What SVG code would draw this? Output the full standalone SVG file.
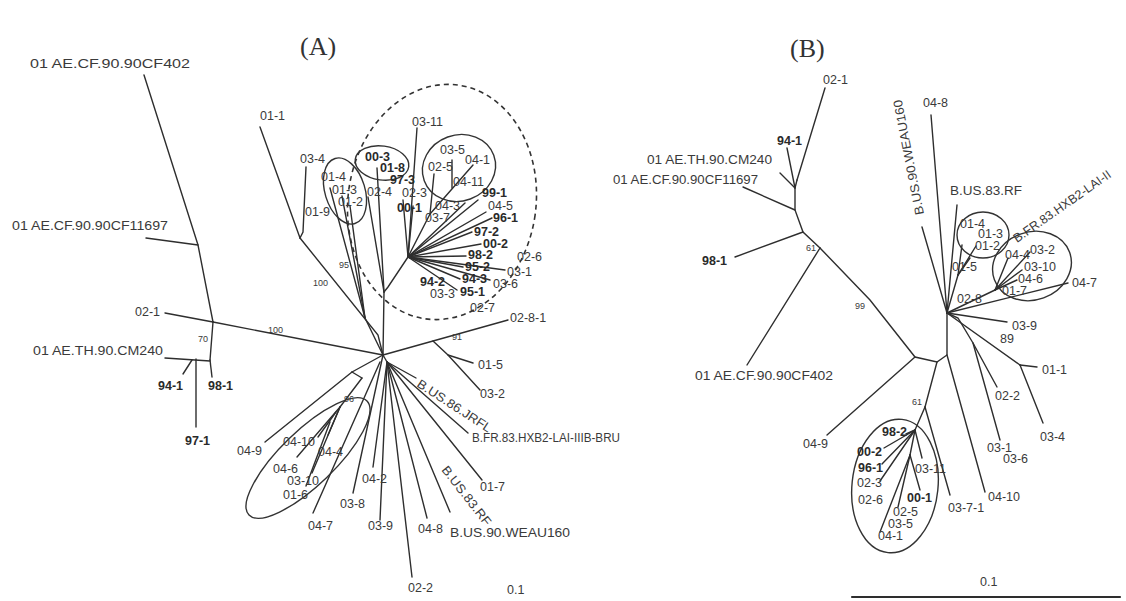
<svg xmlns="http://www.w3.org/2000/svg" width="1126" height="601" viewBox="0 0 1126 601">
<style>
text{font-family:"Liberation Sans",Arial,sans-serif;font-size:12.5px;fill:#3a3a3a}
.b{font-weight:bold;fill:#2a2a2a}
.s{font-size:9px}
.t{font-family:"Liberation Serif","Times New Roman",serif;font-size:26px;fill:#333}
.c line,.c polyline{stroke:#2e2e2e;stroke-width:1.4;fill:none;stroke-linecap:round}
.e{fill:none;stroke:#333;stroke-width:1.4}
.d{fill:none;stroke:#333;stroke-width:1.6;stroke-dasharray:5 4}
</style>
<rect width="1126" height="601" fill="#fff"/>
<text class="t" x="300" y="55">(A)</text>
<text class="t" x="790" y="57">(B)</text>

<!-- connectors -->
<g id="connectors" class="c">
<!-- Tree A left -->
<polyline points="144,75 171,160 198,245 213,322"/>
<line x1="146" y1="238" x2="198" y2="245"/>
<line x1="165" y1="313" x2="213" y2="322"/>
<line x1="213" y1="322" x2="383" y2="355"/>
<line x1="213" y1="322" x2="210" y2="360"/>
<line x1="210" y1="360" x2="212" y2="377"/>
<line x1="165" y1="358" x2="210" y2="361"/>
<line x1="196" y1="359" x2="196" y2="427"/>
<line x1="192" y1="360" x2="183" y2="374"/>
<!-- Tree A upper left cluster -->
<line x1="260" y1="127" x2="300" y2="238"/>
<polyline points="306,167 303,232 300,238"/>
<polyline points="300,238 378,335 383,355"/>
<line x1="330" y1="188" x2="365" y2="318"/>
<line x1="342" y1="196" x2="365" y2="318"/>
<line x1="350" y1="206" x2="365" y2="318"/>
<line x1="365" y1="318" x2="383" y2="355"/>
<line x1="368" y1="197" x2="384" y2="292"/>
<line x1="377" y1="168" x2="384" y2="292"/>
<line x1="384" y1="292" x2="383" y2="355"/>
<polyline points="408,257 388,287 384,292"/>
<!-- Tree A fan -->
<line x1="408" y1="257" x2="417" y2="128"/>
<line x1="408" y1="257" x2="403" y2="200"/>
<line x1="408" y1="257" x2="413" y2="206"/>
<line x1="408" y1="257" x2="430" y2="214"/>
<line x1="430" y1="214" x2="434" y2="174"/>
<line x1="430" y1="214" x2="473" y2="165"/>
<line x1="452" y1="188" x2="452" y2="160"/>
<line x1="408" y1="257" x2="465" y2="203"/>
<line x1="408" y1="257" x2="478" y2="200"/>
<line x1="408" y1="257" x2="486" y2="212"/>
<line x1="408" y1="257" x2="492" y2="218"/>
<line x1="408" y1="257" x2="472" y2="232"/>
<line x1="408" y1="257" x2="481" y2="244"/>
<line x1="408" y1="257" x2="466" y2="256"/>
<line x1="408" y1="257" x2="463" y2="267"/>
<line x1="408" y1="257" x2="460" y2="279"/>
<line x1="408" y1="257" x2="457" y2="290"/>
<line x1="408" y1="257" x2="490" y2="280"/>
<line x1="408" y1="257" x2="505" y2="270"/>
<!-- Tree A right -->
<line x1="383" y1="355" x2="508" y2="320"/>
<polyline points="433,341 448,355 480,390"/>
<line x1="448" y1="355" x2="473" y2="363"/>
<!-- Tree A lower fan -->
<line x1="383" y1="355" x2="387" y2="362"/>
<line x1="387" y1="362" x2="416" y2="378"/>
<line x1="387" y1="362" x2="468" y2="433"/>
<line x1="387" y1="362" x2="482" y2="480"/>
<line x1="387" y1="362" x2="450" y2="512"/>
<line x1="387" y1="362" x2="427" y2="518"/>
<line x1="387" y1="362" x2="412" y2="577"/>
<line x1="387" y1="362" x2="380" y2="520"/>
<line x1="387" y1="362" x2="373" y2="467"/>
<line x1="383" y1="355" x2="353" y2="493"/>
<line x1="380" y1="362" x2="313" y2="513"/>
<!-- Tree A lower-left cluster -->
<line x1="383" y1="355" x2="352" y2="372"/>
<line x1="352" y1="372" x2="265" y2="442"/>
<line x1="362" y1="378" x2="340" y2="407"/>
<line x1="352" y1="372" x2="362" y2="378"/>
<line x1="340" y1="407" x2="297" y2="457"/>
<line x1="340" y1="407" x2="328" y2="435"/>
<line x1="340" y1="407" x2="312" y2="473"/>
<line x1="336" y1="412" x2="318" y2="437"/>
<line x1="330" y1="422" x2="306" y2="486"/>

<!-- Tree B -->
<line x1="825" y1="88" x2="797" y2="180"/>
<polyline points="797,180 795,188 795,210 803,232 820,248"/>
<line x1="787" y1="148" x2="795" y2="188"/>
<line x1="780" y1="173" x2="795" y2="188"/>
<line x1="743" y1="187" x2="795" y2="210"/>
<line x1="735" y1="257" x2="803" y2="232"/>
<line x1="820" y1="248" x2="747" y2="365"/>
<polyline points="820,248 870,300 915,357 937,362 947,355 947,313"/>
<line x1="915" y1="357" x2="827" y2="435"/>
<line x1="947" y1="355" x2="985" y2="492"/>
<line x1="937" y1="362" x2="925" y2="407"/>
<line x1="925" y1="407" x2="950" y2="495"/>
<line x1="925" y1="407" x2="915" y2="430"/>
<line x1="915" y1="430" x2="906" y2="434"/>
<line x1="915" y1="430" x2="884" y2="448"/>
<line x1="915" y1="430" x2="882" y2="464"/>
<line x1="915" y1="430" x2="880" y2="481"/>
<line x1="915" y1="430" x2="922" y2="458"/>
<line x1="915" y1="430" x2="910" y2="455"/>
<line x1="910" y1="455" x2="880" y2="532"/>
<line x1="910" y1="455" x2="898" y2="507"/>
<line x1="910" y1="455" x2="920" y2="490"/>
<!-- Tree B upper fan -->
<line x1="931" y1="115" x2="947" y2="313"/>
<line x1="922" y1="227" x2="947" y2="313"/>
<line x1="957" y1="205" x2="947" y2="313"/>
<line x1="947" y1="313" x2="958" y2="275"/>
<line x1="958" y1="275" x2="962" y2="245"/>
<line x1="958" y1="275" x2="976" y2="246"/>
<line x1="958" y1="275" x2="970" y2="258"/>
<line x1="947" y1="313" x2="995" y2="290"/>
<line x1="995" y1="290" x2="1008" y2="258"/>
<line x1="995" y1="290" x2="1030" y2="252"/>
<line x1="995" y1="290" x2="1022" y2="270"/>
<line x1="995" y1="290" x2="1017" y2="280"/>
<line x1="947" y1="313" x2="1068" y2="283"/>
<line x1="947" y1="313" x2="1007" y2="322"/>
<line x1="947" y1="313" x2="1020" y2="365"/>
<line x1="1020" y1="365" x2="1037" y2="367"/>
<line x1="1020" y1="365" x2="1043" y2="423"/>
<polyline points="947,313 958,318 973,343 997,387"/>
<line x1="973" y1="343" x2="1000" y2="440"/>
<line x1="852" y1="597" x2="1120" y2="597" style="stroke-width:2.2"/>
</g>

<!-- cluster outlines -->
<g id="clusters">
<ellipse class="d" cx="442" cy="202" rx="94" ry="118" transform="rotate(8 442 202)"/>
<ellipse class="e" cx="345" cy="191" rx="20" ry="34" transform="rotate(-17 345 191)"/>
<ellipse class="e" cx="382" cy="163" rx="27" ry="17" transform="rotate(8 382 163)"/>
<ellipse class="e" cx="459" cy="168" rx="37" ry="33" transform="rotate(-20 459 168)"/>
<ellipse class="e" cx="308" cy="458" rx="82" ry="27" transform="rotate(-44 308 458)"/>
<ellipse class="e" cx="895" cy="486" rx="43" ry="67" transform="rotate(6 895 486)"/>
<ellipse class="e" cx="983" cy="235" rx="26" ry="23"/>
<ellipse class="e" cx="1032" cy="266" rx="40" ry="34" transform="rotate(-20 1032 266)"/>
</g>

<!-- Tree A nodes -->
<g id="A-CF402"><text x="30" y="68" textLength="160" lengthAdjust="spacingAndGlyphs">01 AE.CF.90.90CF402</text></g>
<g id="A-CF11697"><text x="12" y="230" textLength="156" lengthAdjust="spacingAndGlyphs">01 AE.CF.90.90CF11697</text></g>
<g id="A-02-1"><text x="135" y="316">02-1</text></g>
<g id="A-CM240"><text x="33" y="355" textLength="130" lengthAdjust="spacingAndGlyphs">01 AE.TH.90.CM240</text></g>
<g id="A-94-1"><text class="b" x="158" y="390">94-1</text></g>
<g id="A-98-1"><text class="b" x="208" y="390">98-1</text></g>
<g id="A-97-1"><text class="b" x="185" y="445">97-1</text></g>
<g id="A-01-1"><text x="260" y="120">01-1</text></g>
<g id="A-03-4"><text x="300" y="163">03-4</text></g>
<g id="A-01-9"><text x="305" y="216">01-9</text></g>
<g id="A-01-4"><text x="321" y="181">01-4</text></g>
<g id="A-01-3"><text x="332" y="194">01-3</text></g>
<g id="A-01-2"><text x="338" y="206">01-2</text></g>
<g id="A-00-3"><text class="b" x="365" y="161">00-3</text></g>
<g id="A-01-8"><text class="b" x="380" y="172">01-8</text></g>
<g id="A-02-4"><text x="367" y="196">02-4</text></g>
<g id="A-97-3"><text class="b" x="390" y="184">97-3</text></g>
<g id="A-02-3"><text x="402" y="197">02-3</text></g>
<g id="A-00-1"><text class="b" x="397" y="212">00-1</text></g>
<g id="A-03-11"><text x="412" y="126">03-11</text></g>
<g id="A-03-5"><text x="440" y="154">03-5</text></g>
<g id="A-04-1"><text x="465" y="164">04-1</text></g>
<g id="A-02-5"><text x="428" y="171">02-5</text></g>
<g id="A-04-11"><text x="453" y="186">04-11</text></g>
<g id="A-99-1"><text class="b" x="482" y="197">99-1</text></g>
<g id="A-04-5"><text x="488" y="210">04-5</text></g>
<g id="A-96-1"><text class="b" x="493" y="222">96-1</text></g>
<g id="A-04-3"><text x="435" y="210">04-3</text></g>
<g id="A-03-7"><text x="425" y="222">03-7</text></g>
<g id="A-97-2"><text class="b" x="474" y="236">97-2</text></g>
<g id="A-00-2"><text class="b" x="483" y="248">00-2</text></g>
<g id="A-98-2"><text class="b" x="468" y="259">98-2</text></g>
<g id="A-02-6"><text x="517" y="261">02-6</text></g>
<g id="A-95-2"><text class="b" x="465" y="271">95-2</text></g>
<g id="A-03-1"><text x="507" y="276">03-1</text></g>
<g id="A-94-2"><text class="b" x="420" y="286">94-2</text></g>
<g id="A-94-3"><text class="b" x="462" y="283">94-3</text></g>
<g id="A-03-6"><text x="493" y="288">03-6</text></g>
<g id="A-95-1"><text class="b" x="460" y="296">95-1</text></g>
<g id="A-03-3"><text x="430" y="298">03-3</text></g>
<g id="A-02-7"><text x="470" y="312">02-7</text></g>
<g id="A-02-8-1"><text x="510" y="322">02-8-1</text></g>
<g id="A-01-5"><text x="478" y="369">01-5</text></g>
<g id="A-03-2"><text x="480" y="398">03-2</text></g>
<g id="A-JRFL"><text x="416" y="386" transform="rotate(33 416 386)" textLength="86" lengthAdjust="spacingAndGlyphs">B.US.86.JRFL</text></g>
<g id="A-HXB2"><text x="472" y="442" textLength="148" lengthAdjust="spacingAndGlyphs">B.FR.83.HXB2-LAI-IIIB-BRU</text></g>
<g id="A-01-7"><text x="480" y="491">01-7</text></g>
<g id="A-RF"><text x="441" y="470" transform="rotate(52 441 470)" textLength="72" lengthAdjust="spacingAndGlyphs">B.US.83.RF</text></g>
<g id="A-04-8"><text x="418" y="533">04-8</text></g>
<g id="A-WEAU160"><text x="450" y="537" textLength="120" lengthAdjust="spacingAndGlyphs">B.US.90.WEAU160</text></g>
<g id="A-02-2"><text x="408" y="592">02-2</text></g>
<g id="A-03-9"><text x="368" y="530">03-9</text></g>
<g id="A-04-2"><text x="362" y="483">04-2</text></g>
<g id="A-03-8"><text x="340" y="508">03-8</text></g>
<g id="A-04-7"><text x="308" y="530">04-7</text></g>
<g id="A-01-6"><text x="283" y="499">01-6</text></g>
<g id="A-03-10"><text x="287" y="485">03-10</text></g>
<g id="A-04-6"><text x="273" y="473">04-6</text></g>
<g id="A-04-4"><text x="318" y="456">04-4</text></g>
<g id="A-04-10"><text x="283" y="446">04-10</text></g>
<g id="A-04-9"><text x="237" y="455">04-9</text></g>
<g id="A-scale"><text x="507" y="594">0.1</text></g>
<g id="A-support">
<text class="s" x="198" y="342">70</text>
<text class="s" x="268" y="333">100</text>
<text class="s" x="313" y="286">100</text>
<text class="s" x="339" y="268">95</text>
<text class="s" x="452" y="340">91</text>
<text class="s" x="344" y="402">96</text>
</g>

<!-- Tree B nodes -->
<g id="B-02-1"><text x="823" y="84">02-1</text></g>
<g id="B-94-1"><text class="b" x="777" y="145">94-1</text></g>
<g id="B-CM240"><text x="647" y="164" textLength="125" lengthAdjust="spacingAndGlyphs">01 AE.TH.90.CM240</text></g>
<g id="B-CF11697"><text x="613" y="184" textLength="145" lengthAdjust="spacingAndGlyphs">01 AE.CF.90.90CF11697</text></g>
<g id="B-98-1"><text class="b" x="702" y="265">98-1</text></g>
<g id="B-CF402"><text x="695" y="380" textLength="138" lengthAdjust="spacingAndGlyphs">01 AE.CF.90.90CF402</text></g>
<g id="B-04-9"><text x="803" y="448">04-9</text></g>
<g id="B-04-8"><text x="923" y="107">04-8</text></g>
<g id="B-WEAU160"><text x="924" y="214" transform="rotate(-101 924 214)" textLength="117" lengthAdjust="spacingAndGlyphs">B.US.90.WEAU160</text></g>
<g id="B-RF"><text x="950" y="195" textLength="72" lengthAdjust="spacingAndGlyphs">B.US.83.RF</text></g>
<g id="B-HXB2"><text x="1017" y="243" transform="rotate(-35 1017 243)">B.FR.83.HXB2-LAI-II</text></g>
<g id="B-01-4"><text x="960" y="228">01-4</text></g>
<g id="B-01-3"><text x="978" y="238">01-3</text></g>
<g id="B-01-2"><text x="975" y="250">01-2</text></g>
<g id="B-01-5"><text x="952" y="271">01-5</text></g>
<g id="B-04-4"><text x="1005" y="259">04-4</text></g>
<g id="B-03-2"><text x="1030" y="254">03-2</text></g>
<g id="B-03-10"><text x="1024" y="271">03-10</text></g>
<g id="B-04-6"><text x="1018" y="283">04-6</text></g>
<g id="B-01-7"><text x="1002" y="295">01-7</text></g>
<g id="B-04-7"><text x="1072" y="287">04-7</text></g>
<g id="B-02-8"><text x="957" y="303">02-8</text></g>
<g id="B-03-9"><text x="1012" y="330">03-9</text></g>
<g id="B-01-1"><text x="1042" y="374">01-1</text></g>
<g id="B-02-2"><text x="995" y="400">02-2</text></g>
<g id="B-03-4"><text x="1040" y="441">03-4</text></g>
<g id="B-03-1"><text x="987" y="452">03-1</text></g>
<g id="B-03-6"><text x="1003" y="463">03-6</text></g>
<g id="B-04-10"><text x="988" y="501">04-10</text></g>
<g id="B-03-7-1"><text x="948" y="512">03-7-1</text></g>
<g id="B-98-2"><text class="b" x="882" y="436">98-2</text></g>
<g id="B-00-2"><text class="b" x="857" y="456">00-2</text></g>
<g id="B-96-1"><text class="b" x="858" y="472">96-1</text></g>
<g id="B-02-3"><text x="857" y="487">02-3</text></g>
<g id="B-02-6"><text x="858" y="504">02-6</text></g>
<g id="B-03-11"><text x="915" y="473">03-11</text></g>
<g id="B-00-1"><text class="b" x="907" y="502">00-1</text></g>
<g id="B-02-5"><text x="893" y="516">02-5</text></g>
<g id="B-03-5"><text x="888" y="528">03-5</text></g>
<g id="B-04-1"><text x="878" y="540">04-1</text></g>
<g id="B-scale"><text x="980" y="586">0.1</text></g>
<g id="B-support">
<text class="s" x="806" y="251">61</text>
<text class="s" x="855" y="309">99</text>
<text class="s" x="912" y="405">61</text>
<text x="1000" y="343">89</text>
</g>
</svg>
